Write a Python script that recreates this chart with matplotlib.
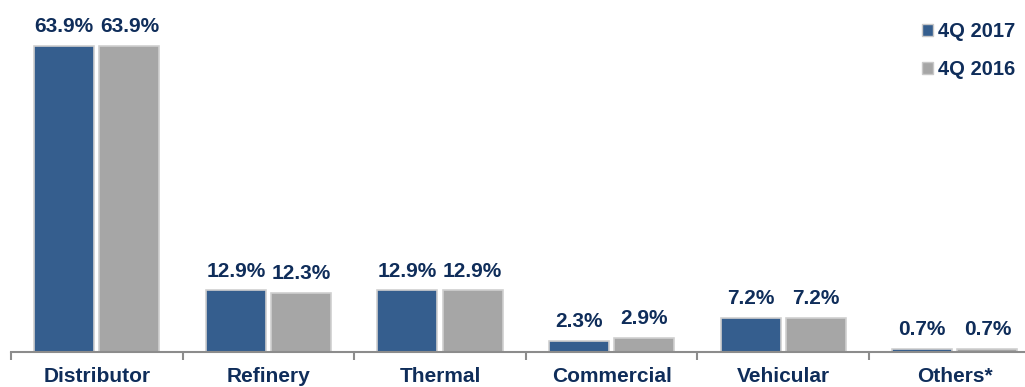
import matplotlib
matplotlib.use("Agg")
import matplotlib.pyplot as plt
from matplotlib.patches import Patch
import numpy as np

plt.rcParams['font.family'] = ['Liberation Sans', 'DejaVu Sans']

categories = ["Distributor", "Refinery", "Thermal", "Commercial", "Vehicular", "Others*"]
q4_2017 = [63.9, 12.9, 12.9, 2.3, 7.2, 0.7]
q4_2016 = [63.9, 12.3, 12.9, 2.9, 7.2, 0.7]
series_names = ["4Q 2017", "4Q 2016"]

blue = "#355E8E"
gray = "#A6A6A6"
txt = "#0F2D5A"

W, H = 1025, 387
fig = plt.figure(figsize=(W / 100, H / 100), dpi=100)
cat_w = 171.6
ax = fig.add_axes([11 / W, 35 / H, 6 * cat_w / W, 352 / H])

x = np.arange(len(categories))
bw = 0.35
b1 = ax.bar(x - 0.19, q4_2017, bw, color=blue, edgecolor="#D0D0D0", linewidth=1.2)
b2 = ax.bar(x + 0.19, q4_2016, bw, color=gray, edgecolor="#D0D0D0", linewidth=1.2)

for bars, vals in ((b1, q4_2017), (b2, q4_2016)):
    for r, v in zip(bars, vals):
        ax.annotate(f"{v:.1f}%", (r.get_x() + r.get_width() / 2, v),
                    xytext=(0, 7), textcoords="offset points",
                    ha="center", va="bottom", fontsize=15, fontweight="bold", color=txt)

ax.set_xlim(-0.5, 5.5)
ax.set_ylim(0, 63.9 * 352 / 306)
for s in ("top", "right", "left"):
    ax.spines[s].set_visible(False)
ax.spines["bottom"].set_color("#8C8C8C")
ax.spines["bottom"].set_linewidth(1.5)
ax.set_yticks([])
ax.set_xticks(x)
ax.set_xticklabels(categories, fontsize=15, fontweight="bold", color=txt)
ax.tick_params(axis="x", which="major", length=0, pad=11)
ax.set_xticks(np.arange(-0.5, 6, 1.0), minor=True)
ax.tick_params(axis="x", which="minor", length=6, width=1.5, color="#8C8C8C", direction="out")

handles = [Patch(facecolor=blue, edgecolor="#C8C8C8"), Patch(facecolor=gray, edgecolor="#C8C8C8")]
fig.legend(handles, series_names, loc="upper left", bbox_to_anchor=(922 / W, 1 - 22 / H),
           frameon=False, handlelength=0.55, handleheight=0.55, handletextpad=0.25,
           labelspacing=0.95, borderpad=0, borderaxespad=0,
           prop={"size": 14.5, "weight": "bold"}, labelcolor=txt)

fig.savefig("out.png", dpi=100)
